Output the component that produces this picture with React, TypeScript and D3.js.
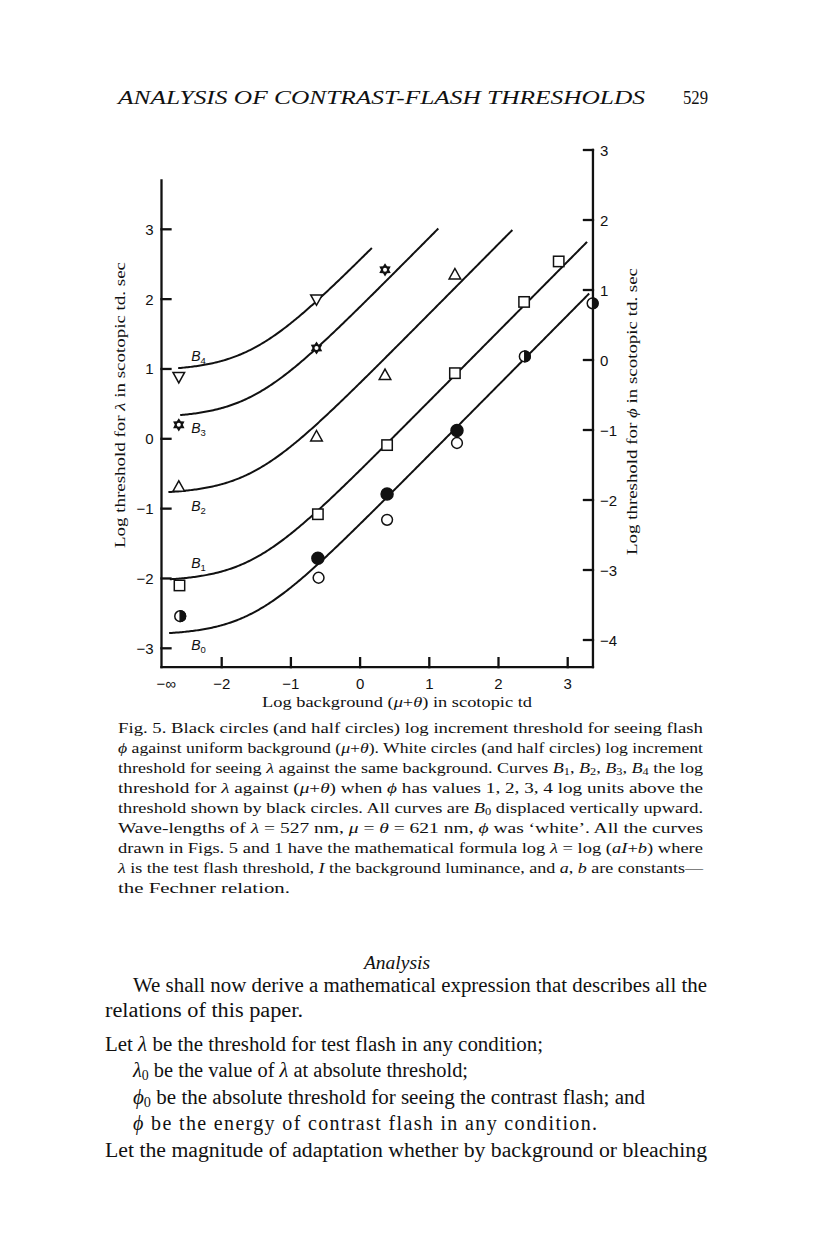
import React from 'react';
import * as d3 from 'd3';

// x = log background (scotopic td); the "-∞" column is drawn at NEG_INF
const NEG_INF = -2.62;
const xTickValues = [-2, -1, 0, 1, 2, 3];
const leftTickValues = [-3, -2, -1, 0, 1, 2, 3];
const rightTickValues = [-4, -3, -2, -1, 0, 1, 2, 3];

// curves B0..B4: log λ = log(aI + b), same shape shifted upward
const curveNames = ['0', '1', '2', '3', '4'];
const curveFloor = [-2.81, -2.04, -0.79, 0.3, 0.975];
const curveStart = [-2.76, -2.75, -2.77, -2.6, -2.63];
const curveEnd = [3.31, 3.28, 2.2, 1.13, 0.17];
const KNEE = -1.58;

// points (values read in left-axis units)
const invTriX = [NEG_INF, -0.63];
const invTriY = [0.89, 2.0];
const starX = [NEG_INF, -0.63, 0.36];
const starY = [0.2, 1.3, 2.42];
const triX = [NEG_INF, -0.63, 0.36, 1.37];
const triY = [-0.69, 0.03, 0.91, 2.35];
const squareX = [-2.61, -0.61, 0.39, 1.37, 2.37, 2.87];
const squareY = [-2.1, -1.08, -0.09, 0.94, 1.96, 2.54];
const blackX = [-0.61, 0.39, 1.4];
const blackY = [-1.71, -0.79, 0.12];
const whiteX = [-0.6, 0.39, 1.4];
const whiteY = [-1.99, -1.16, -0.06];
const halfX = [-2.6, 2.38, 3.36];
const halfY = [-2.54, 1.18, 1.94];

const SERIF = '"Liberation Serif", "Times New Roman", serif';
const SANS = '"Liberation Sans", Arial, sans-serif';

const x = d3.scaleLinear().domain([-2, 3]).range([221.7, 567.7]);
const y = d3.scaleLinear().domain([-3, 3]).range([648.3, 229.3]);
const yR = d3.scaleLinear().domain([-4, 3]).range([640, 150]);

const frameLeft = x(-2.87);
const frameRight = x(3.365);
const frameBottom = y(-3.27);
const leftTop = y(3.7);
const rightTop = yR(3);

const curveY = (v: number, floor: number) => floor + Math.log10(1 + Math.pow(10, v - KNEE));
const line = d3.line<[number, number]>().x(d => x(d[0])).y(d => y(d[1]));

const labelDy = [-0.21, 0.19, -0.24, -0.22, 0.14];

const hexPath = (() => {
  const pts: string[] = [];
  for (let i = 0; i < 12; i++) {
    const a = (Math.PI / 6) * i - Math.PI / 2;
    const r = i % 2 === 0 ? 6.6 : 4.0;
    pts.push(`${(r * Math.cos(a)).toFixed(2)},${(r * Math.sin(a)).toFixed(2)}`);
  }
  return 'M' + pts.join('L') + 'Z';
})();

type Seg = string | { t: string; i?: boolean; sub?: boolean };

const Txt = ({ segs, xx, yy, len, size, family = SERIF, italic = false, anchor, adjust = 'spacingAndGlyphs' }: any) => (
  <text x={xx} y={yy} fontFamily={family} fontSize={size} fontStyle={italic ? 'italic' : 'normal'}
    textLength={len} lengthAdjust={len ? adjust : undefined} textAnchor={anchor} fill="#111">
    {(segs as Seg[]).map((s, k) =>
      typeof s === 'string' ? <tspan key={k}>{s}</tspan> :
        s.sub ? <tspan key={k} fontSize={size * 0.68} baselineShift="-22%">{s.t}</tspan> :
          <tspan key={k} fontStyle="italic">{s.t}</tspan>)}
  </text>
);

const caption: Seg[][] = [
  ['Fig. 5. Black circles (and half circles) log increment threshold for seeing flash'],
  [{ t: 'ϕ', i: true }, ' against uniform background (', { t: 'μ', i: true }, '+', { t: 'θ', i: true }, '). White circles (and half circles) log increment'],
  ['threshold for seeing ', { t: 'λ', i: true }, ' against the same background. Curves ', { t: 'B', i: true }, { t: '1', sub: true }, ', ', { t: 'B', i: true }, { t: '2', sub: true }, ', ', { t: 'B', i: true }, { t: '3', sub: true }, ', ', { t: 'B', i: true }, { t: '4', sub: true }, ' the log'],
  ['threshold for ', { t: 'λ', i: true }, ' against (', { t: 'μ', i: true }, '+', { t: 'θ', i: true }, ') when ', { t: 'ϕ', i: true }, ' has values 1, 2, 3, 4 log units above the'],
  ['threshold shown by black circles. All curves are ', { t: 'B', i: true }, { t: '0', sub: true }, ' displaced vertically upward.'],
  ['Wave-lengths of ', { t: 'λ', i: true }, ' = 527 nm, ', { t: 'μ', i: true }, ' = ', { t: 'θ', i: true }, ' = 621 nm, ', { t: 'ϕ', i: true }, ' was \u2018white\u2019. All the curves'],
  ['drawn in Figs. 5 and 1 have the mathematical formula log ', { t: 'λ', i: true }, ' = log (', { t: 'aI', i: true }, '+', { t: 'b', i: true }, ') where'],
  [{ t: 'λ', i: true }, ' is the test flash threshold, ', { t: 'I', i: true }, ' the background luminance, and ', { t: 'a', i: true }, ', ', { t: 'b', i: true }, ' are constants\u2014'],
  ['the Fechner relation.'],
];

const body: { segs: Seg[]; x0: number; len?: number; y0: number; adj?: string }[] = [
  { segs: ['We shall now derive a mathematical expression that describes all the'], x0: 133, len: 574, y0: 992 },
  { segs: ['relations of this paper.'], x0: 105, len: 198, y0: 1017 },
  { segs: ['Let ', { t: 'λ', i: true }, ' be the threshold for test flash in any condition;'], x0: 105, len: 438, y0: 1051 },
  { segs: [{ t: 'λ', i: true }, { t: '0', sub: true }, ' be the value of ', { t: 'λ', i: true }, ' at absolute threshold;'], x0: 133, len: 335, y0: 1077 },
  { segs: [{ t: 'ϕ', i: true }, { t: '0', sub: true }, ' be the absolute threshold for seeing the contrast flash; and'], x0: 133, len: 512, y0: 1104 },
  { segs: [{ t: 'ϕ', i: true }, ' be the energy of contrast flash in any condition.'], x0: 133, len: 464, y0: 1130, adj: 'spacing' },
  { segs: ['Let the magnitude of adaptation whether by background or bleaching'], x0: 105, len: 602, y0: 1157 },
];

const fmt = (v: number) => (v < 0 ? '\u2212' + Math.abs(v) : String(v));

export default function App() {
  const sw = 1.5;
  return (
    <svg width={816} height={1258} viewBox="0 0 816 1258"
      style={{ position: 'absolute', left: 0, top: 0, background: '#fff', display: 'block' }}>
      <rect width={816} height={1258} fill="#fff" />

      {/* running head */}
      <Txt segs={['ANALYSIS OF CONTRAST-FLASH THRESHOLDS']} xx={118} yy={104} len={527} size={18.5} italic />
      <Txt segs={['529']} xx={683} yy={104} len={25} size={18.5} />

      {/* frame */}
      <g stroke="#111" strokeWidth={2.3} fill="none" strokeLinecap="square">
        <line x1={frameLeft} y1={leftTop} x2={frameLeft} y2={frameBottom} />
        <line x1={frameRight} y1={rightTop} x2={frameRight} y2={frameBottom} />
        <line x1={frameLeft} y1={frameBottom} x2={frameRight} y2={frameBottom} />
        {leftTickValues.map(v => <line key={'l' + v} x1={frameLeft} x2={frameLeft + 9} y1={y(v)} y2={y(v)} />)}
        {rightTickValues.map(v => <line key={'r' + v} x1={frameRight} x2={frameRight - 9} y1={yR(v)} y2={yR(v)} />)}
        {xTickValues.map(v => <line key={'b' + v} x1={x(v)} x2={x(v)} y1={frameBottom} y2={frameBottom - 9} />)}
      </g>

      {/* tick labels */}
      <g fontFamily={SANS} fontSize={15} fill="#111">
        {leftTickValues.map(v => (
          <text key={v} x={frameLeft - 8} y={y(v) + 5.5} textAnchor="end">{fmt(v)}</text>
        ))}
        {rightTickValues.map(v => (
          <text key={v} x={frameRight + 7} y={yR(v) + 5.5}>{fmt(v)}</text>
        ))}
        {xTickValues.map(v => (
          <text key={v} x={x(v)} y={689} textAnchor="middle">{fmt(v)}</text>
        ))}
        <text x={x(-2.8)} y={689} textAnchor="middle">{'\u2212\u221e'}</text>
      </g>

      {/* axis titles */}
      <Txt segs={['Log background (', { t: 'μ', i: true }, '+', { t: 'θ', i: true }, ') in scotopic td']} xx={262} yy={707} len={270} size={14.5} />
      <g transform="translate(125,548) rotate(-90)">
        <Txt segs={['Log threshold for ', { t: 'λ', i: true }, ' in scotopic td. sec']} xx={0} yy={0} len={286} size={14.5} />
      </g>
      <g transform="translate(637,555) rotate(-90)">
        <Txt segs={['Log threshold for ', { t: 'ϕ', i: true }, ' in scotopic td. sec']} xx={0} yy={0} len={287} size={14.5} />
      </g>

      {/* curves */}
      <g fill="none" stroke="#111" strokeWidth={2}>
        {curveNames.map((n, i) => {
          const xs = d3.range(curveStart[i], curveEnd[i], 0.02).concat([curveEnd[i]]);
          const pts = xs.map(v => [v, curveY(v, curveFloor[i])] as [number, number]);
          return <path key={n} d={line(pts) || ''} />;
        })}
      </g>
      {curveNames.map((n, i) => (
        <text key={n} x={x(-2.44)} y={y(curveFloor[i] + labelDy[i])} fontFamily={SANS} fontStyle="italic" fontSize={14} fill="#111">
          B<tspan fontSize={9.5} fontStyle="normal" dy={3}>{n}</tspan>
        </text>
      ))}

      {/* markers */}
      <g stroke="#111" strokeWidth={sw} fill="#fff">
        {invTriX.map((v, i) => (
          <path key={'it' + i} transform={`translate(${x(v)},${y(invTriY[i])})`} d="M-5.8,-4.2L5.8,-4.2L0,6.2Z" />
        ))}
        {triX.map((v, i) => (
          <path key={'t' + i} transform={`translate(${x(v)},${y(triY[i])})`} d="M-5.8,4.2L5.8,4.2L0,-6.2Z" />
        ))}
        {squareX.map((v, i) => (
          <rect key={'s' + i} x={x(v) - 5.2} y={y(squareY[i]) - 5.2} width={10.4} height={10.4} />
        ))}
        {whiteX.map((v, i) => (
          <circle key={'w' + i} cx={x(v)} cy={y(whiteY[i])} r={5.4} />
        ))}
        {blackX.map((v, i) => (
          <circle key={'b' + i} cx={x(v)} cy={y(blackY[i])} r={6} fill="#111" />
        ))}
        {halfX.map((v, i) => (
          <g key={'h' + i} transform={`translate(${x(v)},${y(halfY[i])})`}>
            <circle r={5.4} />
            <path d="M0,-5.4A5.4,5.4 0 0 1 0,5.4Z" fill="#111" />
          </g>
        ))}
        {starX.map((v, i) => (
          <g key={'st' + i} transform={`translate(${x(v)},${y(starY[i])})`}>
            <path d={hexPath} fill="#111" stroke="none" />
            <circle r={2} fill="#fff" stroke="none" />
          </g>
        ))}
      </g>

      {/* caption */}
      {caption.map((segs, i) => (
        <Txt key={i} segs={segs} xx={118} yy={733 + i * 20} len={i < 8 ? 585 : 172} size={14.5} />
      ))}

      {/* text below */}
      <Txt segs={['Analysis']} xx={397} yy={969} size={19.5} italic anchor="middle" />
      {body.map((b, i) => (
        <Txt key={i} segs={b.segs} xx={b.x0} yy={b.y0} len={b.len} size={20} adjust={b.adj || 'spacingAndGlyphs'} />
      ))}
    </svg>
  );
}
